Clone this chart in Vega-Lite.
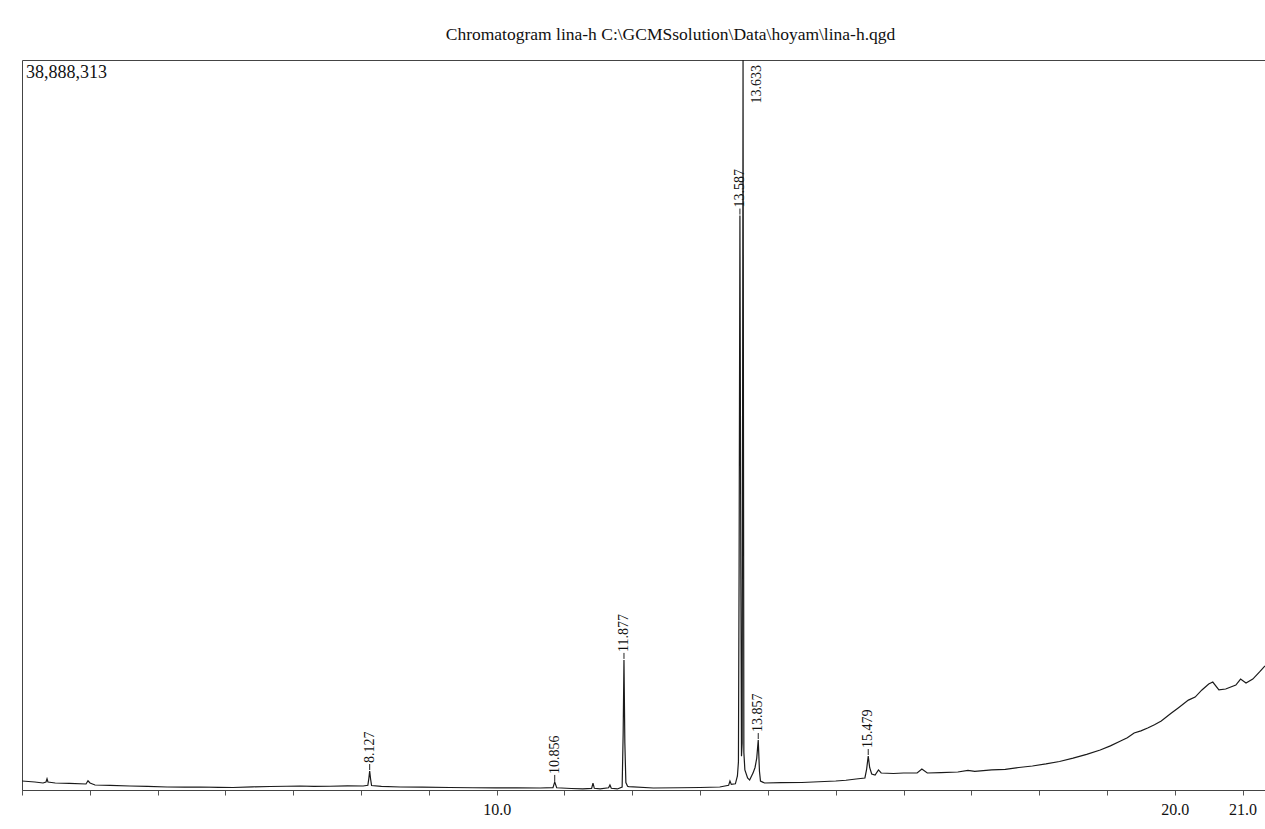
{
  "$schema": "https://vega.github.io/schema/vega-lite/v6.json",
  "autosize": "none",
  "padding": {"left": 22, "top": 60, "right": 0, "bottom": 39},
  "width": 1243,
  "height": 730,
  "background": "white",
  "config": {
    "view": {"stroke": "#444", "strokeWidth": 1},
    "font": "Liberation Serif"
  },
  "title": {
    "text": "Chromatogram lina-h C:\\GCMSsolution\\Data\\hoyam\\lina-h.qgd",
    "font": "Liberation Serif",
    "fontSize": 17.5,
    "fontWeight": "normal",
    "color": "#111",
    "anchor": "middle",
    "dx": 27,
    "offset": 17
  },
  "datasets": {
    "signal": [
      {"t": 3.00, "v": 480000}, {"t": 3.19, "v": 426000}, {"t": 3.31, "v": 373000},
      {"t": 3.354, "v": 426000}, {"t": 3.369, "v": 600000}, {"t": 3.383, "v": 426000},
      {"t": 3.49, "v": 373000}, {"t": 3.70, "v": 350000}, {"t": 3.944, "v": 320000},
      {"t": 3.973, "v": 490000}, {"t": 4.003, "v": 373000}, {"t": 4.077, "v": 266000},
      {"t": 4.30, "v": 250000}, {"t": 4.59, "v": 213000}, {"t": 4.85, "v": 190000},
      {"t": 5.14, "v": 160000}, {"t": 5.40, "v": 150000}, {"t": 5.63, "v": 160000},
      {"t": 5.90, "v": 140000}, {"t": 6.11, "v": 133000}, {"t": 6.40, "v": 170000},
      {"t": 6.66, "v": 186000}, {"t": 6.90, "v": 200000}, {"t": 7.10, "v": 213000},
      {"t": 7.30, "v": 190000}, {"t": 7.54, "v": 200000}, {"t": 7.80, "v": 215000},
      {"t": 8.03, "v": 213000}, {"t": 8.10, "v": 250000}, {"t": 8.115, "v": 620000},
      {"t": 8.127, "v": 1010000}, {"t": 8.14, "v": 600000}, {"t": 8.155, "v": 240000},
      {"t": 8.30, "v": 190000}, {"t": 8.58, "v": 160000}, {"t": 8.90, "v": 150000},
      {"t": 9.31, "v": 133000}, {"t": 9.65, "v": 120000}, {"t": 9.99, "v": 110000},
      {"t": 10.30, "v": 115000}, {"t": 10.64, "v": 107000}, {"t": 10.83, "v": 130000},
      {"t": 10.845, "v": 300000}, {"t": 10.856, "v": 430000}, {"t": 10.868, "v": 300000},
      {"t": 10.885, "v": 120000}, {"t": 11.10, "v": 80000}, {"t": 11.27, "v": 60000},
      {"t": 11.40, "v": 90000}, {"t": 11.42, "v": 370000}, {"t": 11.44, "v": 90000},
      {"t": 11.525, "v": 60000}, {"t": 11.65, "v": 120000}, {"t": 11.67, "v": 266000},
      {"t": 11.69, "v": 90000}, {"t": 11.78, "v": 55000}, {"t": 11.85, "v": 150000},
      {"t": 11.865, "v": 3000000}, {"t": 11.877, "v": 6930000}, {"t": 11.89, "v": 2500000},
      {"t": 11.905, "v": 400000}, {"t": 11.93, "v": 200000}, {"t": 11.95, "v": 180000},
      {"t": 12.31, "v": 107000}, {"t": 12.70, "v": 120000}, {"t": 13.00, "v": 133000},
      {"t": 13.29, "v": 160000}, {"t": 13.42, "v": 250000}, {"t": 13.44, "v": 480000},
      {"t": 13.46, "v": 300000}, {"t": 13.52, "v": 330000}, {"t": 13.55, "v": 750000},
      {"t": 13.565, "v": 1500000}, {"t": 13.575, "v": 12000000}, {"t": 13.587, "v": 30600000},
      {"t": 13.60, "v": 12000000}, {"t": 13.61, "v": 1800000}, {"t": 13.62, "v": 2500000},
      {"t": 13.633, "v": 38888313}, {"t": 13.645, "v": 2000000}, {"t": 13.66, "v": 1070000},
      {"t": 13.70, "v": 640000}, {"t": 13.73, "v": 530000}, {"t": 13.78, "v": 900000},
      {"t": 13.81, "v": 1200000}, {"t": 13.835, "v": 1700000}, {"t": 13.857, "v": 2660000},
      {"t": 13.875, "v": 1000000}, {"t": 13.89, "v": 480000}, {"t": 13.95, "v": 373000},
      {"t": 14.20, "v": 390000}, {"t": 14.50, "v": 400000}, {"t": 14.75, "v": 440000},
      {"t": 15.00, "v": 480000}, {"t": 15.15, "v": 520000}, {"t": 15.30, "v": 586000},
      {"t": 15.43, "v": 640000}, {"t": 15.455, "v": 1100000}, {"t": 15.479, "v": 1810000},
      {"t": 15.50, "v": 1200000}, {"t": 15.53, "v": 850000}, {"t": 15.58, "v": 800000},
      {"t": 15.63, "v": 1070000}, {"t": 15.67, "v": 906000}, {"t": 15.85, "v": 880000},
      {"t": 16.00, "v": 906000}, {"t": 16.20, "v": 906000}, {"t": 16.27, "v": 1120000},
      {"t": 16.35, "v": 906000}, {"t": 16.55, "v": 930000}, {"t": 16.80, "v": 960000},
      {"t": 16.95, "v": 1040000}, {"t": 17.05, "v": 990000}, {"t": 17.30, "v": 1070000},
      {"t": 17.50, "v": 1100000}, {"t": 17.70, "v": 1200000}, {"t": 17.90, "v": 1280000},
      {"t": 18.10, "v": 1390000}, {"t": 18.30, "v": 1520000}, {"t": 18.50, "v": 1700000},
      {"t": 18.70, "v": 1900000}, {"t": 18.90, "v": 2130000}, {"t": 19.05, "v": 2350000},
      {"t": 19.20, "v": 2610000}, {"t": 19.30, "v": 2780000}, {"t": 19.40, "v": 3040000},
      {"t": 19.50, "v": 3150000}, {"t": 19.60, "v": 3300000}, {"t": 19.70, "v": 3480000},
      {"t": 19.80, "v": 3680000}, {"t": 19.95, "v": 4100000}, {"t": 20.05, "v": 4370000},
      {"t": 20.20, "v": 4790000}, {"t": 20.30, "v": 4950000}, {"t": 20.40, "v": 5330000},
      {"t": 20.50, "v": 5650000}, {"t": 20.56, "v": 5750000}, {"t": 20.65, "v": 5330000},
      {"t": 20.75, "v": 5380000}, {"t": 20.90, "v": 5590000}, {"t": 20.97, "v": 5910000},
      {"t": 21.05, "v": 5700000}, {"t": 21.15, "v": 5910000}, {"t": 21.25, "v": 6290000},
      {"t": 21.33, "v": 6610000}
    ],
    "peaks": [
      {"t": 8.127, "v": 1010000, "label": "8.127"},
      {"t": 10.856, "v": 430000, "label": "10.856"},
      {"t": 11.877, "v": 6930000, "label": "11.877"},
      {"t": 13.587, "v": 30600000, "label": "13.587"},
      {"t": 13.857, "v": 2660000, "label": "13.857"},
      {"t": 15.479, "v": 1810000, "label": "15.479"}
    ],
    "top": [
      {"t": 13.633, "v": 38888313, "label": "13.633"}
    ],
    "maxlabel": [
      {"t": 3.0, "v": 38888313, "label": "38,888,313"}
    ]
  },
  "encoding": {
    "x": {
      "field": "t",
      "type": "quantitative",
      "scale": {"domain": [3.0, 21.33], "nice": false, "zero": false},
      "axis": {
        "title": null,
        "grid": false,
        "values": [3,4,5,6,7,8,9,10,11,12,13,14,15,16,17,18,19,20,21],
        "labelExpr": "datum.value == 10 || datum.value == 20 || datum.value == 21 ? format(datum.value, '.1f') : ''",
        "labelFont": "Liberation Serif",
        "labelFontSize": 16,
        "labelColor": "#111",
        "labelPadding": 6,
        "tickSize": 5,
        "tickColor": "#555",
        "domainColor": "#444",
        "labelFlush": false,
        "labelOverlap": false
      }
    },
    "y": {
      "field": "v",
      "type": "quantitative",
      "scale": {"domain": [0, 38888313], "nice": false},
      "axis": null
    }
  },
  "layer": [
    {
      "data": {"name": "signal"},
      "mark": {"type": "line", "color": "#1a1a1a", "strokeWidth": 1.2, "clip": true}
    },
    {
      "data": {"name": "peaks"},
      "mark": {"type": "rule", "color": "#222", "strokeWidth": 1, "yOffset": -1, "y2Offset": -7},
      "encoding": {"y2": {"field": "v"}}
    },
    {
      "data": {"name": "peaks"},
      "mark": {"type": "text", "angle": 270, "align": "left", "baseline": "middle", "dx": 8, "font": "Liberation Serif", "fontSize": 14, "color": "#111"},
      "encoding": {"text": {"field": "label"}}
    },
    {
      "data": {"name": "top"},
      "mark": {"type": "text", "angle": 270, "align": "right", "baseline": "middle", "dx": -5, "dy": 14, "font": "Liberation Serif", "fontSize": 14, "color": "#111"},
      "encoding": {"text": {"field": "label"}}
    },
    {
      "data": {"name": "maxlabel"},
      "mark": {"type": "text", "align": "left", "baseline": "top", "dx": 4, "dy": 4, "font": "Liberation Serif", "fontSize": 18, "color": "#111"},
      "encoding": {"text": {"field": "label"}}
    }
  ]
}
